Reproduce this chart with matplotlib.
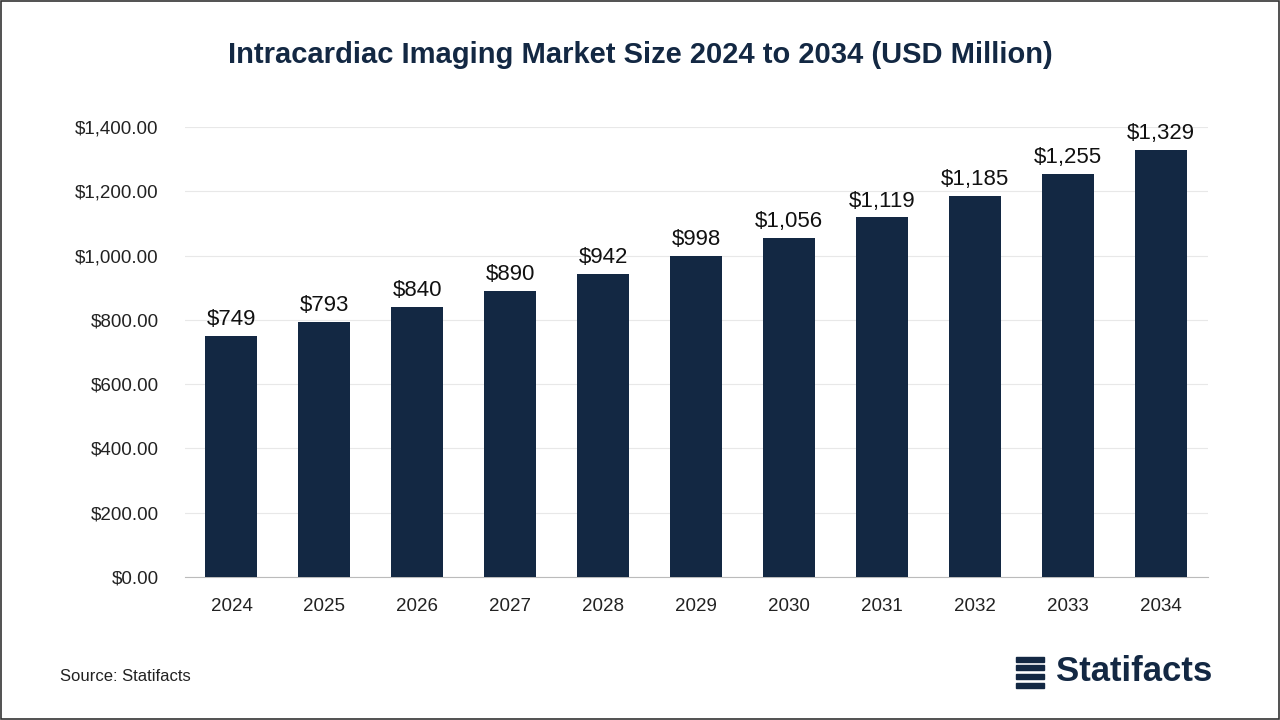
import matplotlib
matplotlib.use("Agg")
import matplotlib.pyplot as plt
from matplotlib.patches import Rectangle

plt.rcParams["font.family"] = "Liberation Sans"

years = ["2024","2025","2026","2027","2028","2029","2030","2031","2032","2033","2034"]
values = [749, 793, 840, 890, 942, 998, 1056, 1119, 1185, 1255, 1329]
yticks = [0, 200, 400, 600, 800, 1000, 1200, 1400]

navy = "#132843"
fig = plt.figure(figsize=(12.8, 7.2), dpi=100)
fig.patches.append(Rectangle((0.0008, 0.001), 0.9984, 0.998, transform=fig.transFigure,
                             fill=False, edgecolor="#333333", linewidth=1.2))
ax = fig.add_axes([0.1445, 0.1986, 0.799, 0.625])
x = range(len(years))
ax.bar(x, values, width=0.56, color=navy, zorder=3)
for xi, v in zip(x, values):
    ax.text(xi, v + 18, f"${v:,}", ha="center", va="bottom", fontsize=16, color="#111111")
ax.set_ylim(0, 1400)
ax.set_xlim(-0.5, 10.5)
ax.set_yticks(yticks)
ax.set_yticklabels([f"${t:,.2f}" for t in yticks], fontsize=13.5)
ax.set_xticks(list(x))
ax.set_xticklabels(years, fontsize=13.5)
ax.grid(axis="y", color="#e8e8e8", linewidth=0.8, zorder=0)
for s in ["top", "right", "left"]:
    ax.spines[s].set_visible(False)
ax.spines["bottom"].set_color("#bbbbbb")
ax.tick_params(axis="x", length=0, pad=15, colors="#222222")
ax.tick_params(axis="y", length=0, pad=19, colors="#222222")
fig.text(0.5, 0.923, "Intracardiac Imaging Market Size 2024 to 2034 (USD Million)",
         ha="center", va="center", fontsize=21, fontweight="bold", color=navy)
fig.text(0.047, 0.06, "Source: Statifacts", fontsize=12, color="#222222", va="center")
fig.text(0.825, 0.068, "Statifacts", fontsize=25, fontweight="bold", color=navy, va="center")
for i in range(4):
    fig.patches.append(Rectangle((0.794, 0.045 + i * 0.012), 0.022, 0.007,
                                 transform=fig.transFigure, color=navy))
fig.savefig("out.png", dpi=100)
